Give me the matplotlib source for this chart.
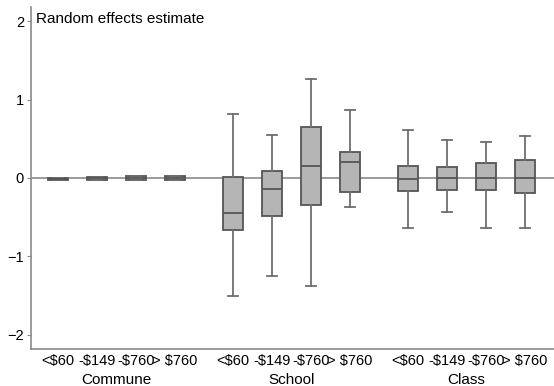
import matplotlib

matplotlib.use("Agg")
import matplotlib.pyplot as plt

plt.rcParams["font.family"] = ["Liberation Sans", "DejaVu Sans"]

# data (random effects estimate by income group)
groups = ["Commune", "School", "Class"]
income = ["<$60", "-$149", "-$760", "> $760"]
whislo = [-0.02, -0.02, -0.02, -0.02,
          -1.51, -1.25, -1.38, -0.37,
          -0.64, -0.44, -0.64, -0.64]
q1 = [-0.02, -0.02, -0.02, -0.02,
      -0.66, -0.48, -0.34, -0.18,
      -0.17, -0.16, -0.15, -0.19]
med = [-0.01, 0.0, 0.0, 0.0,
       -0.45, -0.14, 0.15, 0.20,
       -0.01, 0.0, 0.0, 0.0]
q3 = [0.0, 0.01, 0.02, 0.02,
      0.01, 0.09, 0.65, 0.33,
      0.15, 0.14, 0.19, 0.23]
whishi = [0.0, 0.01, 0.02, 0.02,
          0.82, 0.55, 1.26, 0.87,
          0.61, 0.49, 0.46, 0.54]

BOX = "#b5b5b5"
EDGE = "#555555"
LINE = "#6e6e6e"
AXIS = "#8a8a8a"

positions = []
for g in range(len(groups)):
    for k in range(len(income)):
        positions.append(g * 4.5 + k)

stats = []
for i in range(len(positions)):
    stats.append(dict(whislo=whislo[i], q1=q1[i], med=med[i],
                      q3=q3[i], whishi=whishi[i], fliers=[]))

fig = plt.figure(figsize=(5.54, 3.86), dpi=100)
ax = fig.add_axes([0.056, 0.096, 0.944, 0.886])

ax.axhline(0, color=AXIS, linewidth=1.2, zorder=1)

ax.bxp(stats, positions=positions, widths=0.52, patch_artist=True,
       showfliers=False, manage_ticks=False,
       boxprops=dict(facecolor=BOX, edgecolor=EDGE, linewidth=1.3),
       medianprops=dict(color=EDGE, linewidth=1.3),
       whiskerprops=dict(color=LINE, linewidth=1.3),
       capprops=dict(color=LINE, linewidth=1.3),
       zorder=2)

ax.set_xlim(-0.7, 12.75)
ax.set_ylim(-2.18, 2.18)
ax.set_yticks([-2, -1, 0, 1, 2])
ax.set_yticklabels(["\u22122", "\u22121", "0", "1", "2"])
ax.tick_params(axis="y", length=3, color=AXIS, labelsize=10.5, pad=2)

ax.set_xticks(positions)
ax.set_xticklabels(income * len(groups))
ax.tick_params(axis="x", length=0, labelsize=10.5, pad=4)

for g, name in enumerate(groups):
    ax.text(g * 4.5 + 1.5, -0.102, name, transform=ax.get_xaxis_transform(),
            ha="center", va="baseline", fontsize=11)

for side in ("top", "right"):
    ax.spines[side].set_visible(False)
for side in ("left", "bottom"):
    ax.spines[side].set_color(AXIS)
    ax.spines[side].set_linewidth(1.2)

ax.text(0.01, 0.985, "Random effects estimate", transform=ax.transAxes,
        ha="left", va="top", fontsize=11)

fig.savefig("out.png", dpi=100)
